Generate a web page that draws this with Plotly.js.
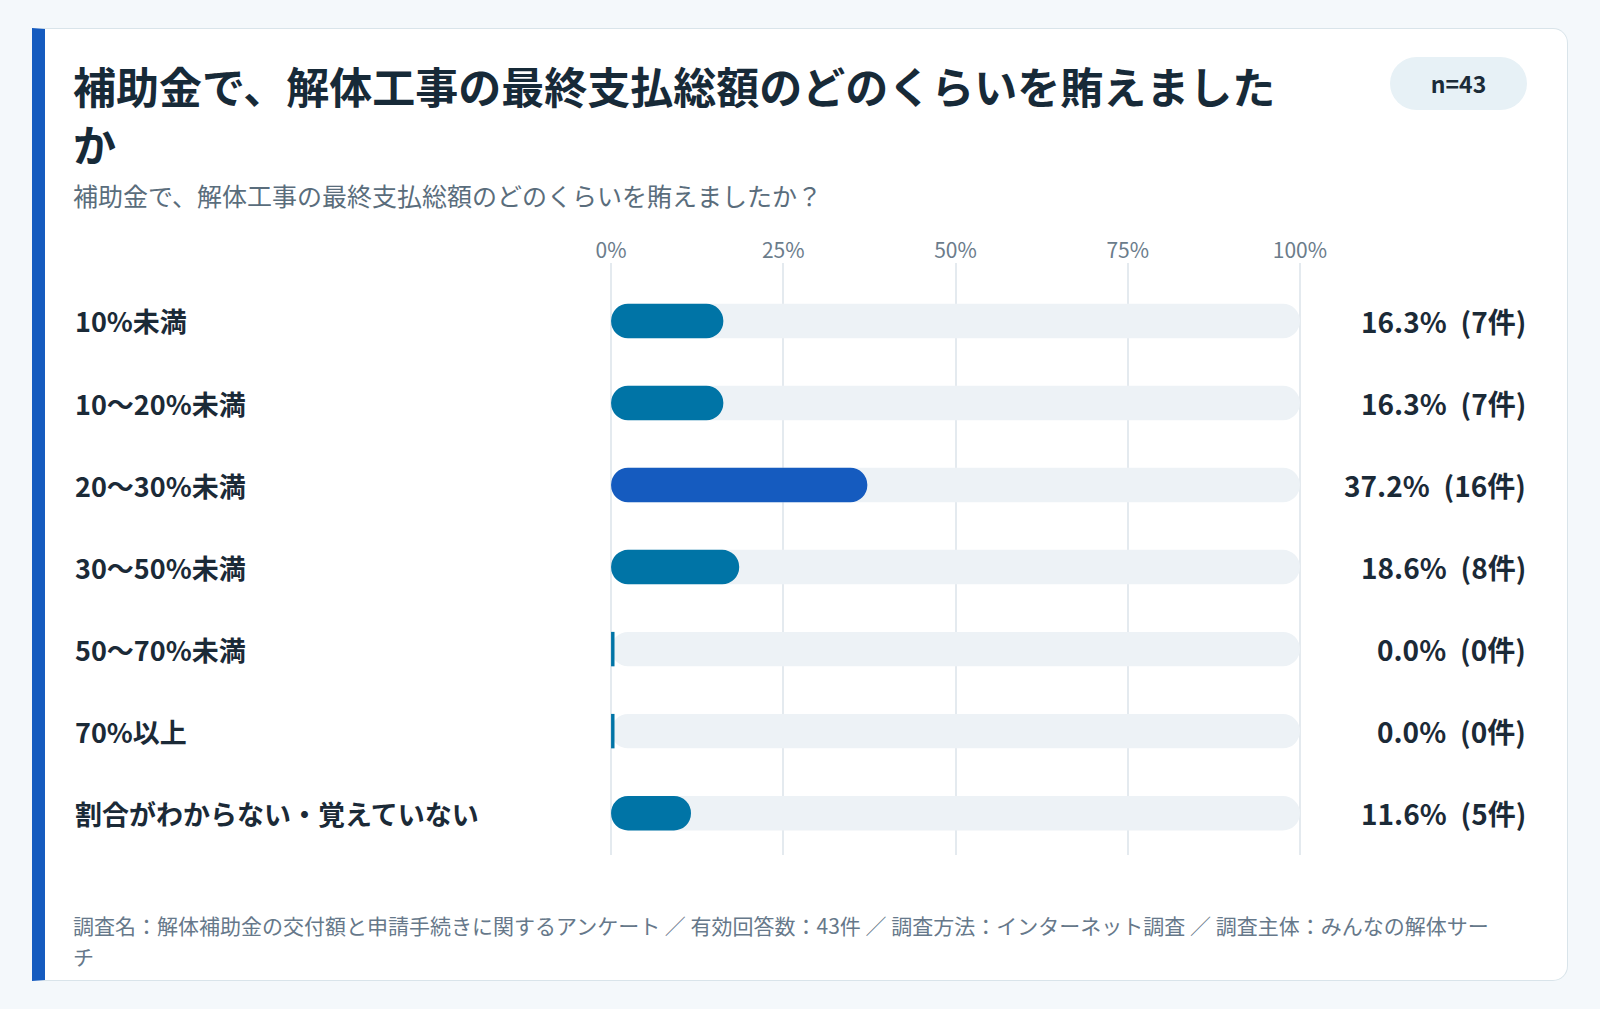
<!DOCTYPE html>
<html lang="ja">
<head>
<meta charset="utf-8">
<script src="https://cdn.plot.ly/plotly-3.0.1.min.js"></script>
<style>
  html, body { margin: 0; padding: 0; background: #f4f8fb; }
  body { width: 1600px; height: 1009px; position: relative; overflow: hidden;
         font-family: "Noto Sans CJK JP", "Noto Sans", sans-serif; }
  .card { position: absolute; left: 32px; top: 28px; width: 1522px; height: 951px;
          background: #fff; border: 1px solid #d9e4ea; border-left: 13px solid #155bbf;
          border-radius: 0 15px 15px 0; }
  .title { position: absolute; left: 73px; top: 56px; margin: 0; font-size: 43px;
           line-height: 58px; font-weight: 700; color: #172a38; z-index: 2; }
  .sub { position: absolute; left: 73px; top: 178px; font-size: 25px; line-height: 34px;
         color: #5a6d7c; z-index: 2; }
  .badge { position: absolute; left: 1390px; top: 57px; width: 137px; height: 53px;
           border-radius: 27px; background: #e7f1f6; color: #1b2b38; font-weight: 700;
           font-size: 23px; line-height: 53px; text-align: center; z-index: 2; }
  .foot { position: absolute; left: 73px; top: 910px; width: 1424px; font-size: 21px;
          line-height: 30.5px; color: #66788a; z-index: 2; }
  #chart { position: absolute; left: 0; top: 0; width: 1600px; height: 1009px; z-index: 1; }
</style>
</head>
<body>
<div class="card"></div>
<h1 class="title">補助金で、解体工事の最終支払総額のどのくらいを賄えました<br>か</h1>
<div class="sub">補助金で、解体工事の最終支払総額のどのくらいを賄えましたか？</div>
<div class="badge">n=43</div>
<div class="foot">調査名：解体補助金の交付額と申請手続きに関するアンケート ／ 有効回答数：43件 ／ 調査方法：インターネット調査 ／ 調査主体：みんなの解体サーチ</div>
<div id="chart"></div>
<script>
var categories = ['10%未満', '10〜20%未満', '20〜30%未満', '30〜50%未満', '50〜70%未満', '70%以上', '割合がわからない・覚えていない'];
var percents = [16.3, 16.3, 37.2, 18.6, 0.0, 0.0, 11.6];
var counts = [7, 7, 16, 8, 0, 0, 5];
var tickValues = [0, 25, 50, 75, 100];
var tickLabels = ['0%', '25%', '50%', '75%', '100%'];

var W = 1600, H = 1009;
// pixel positions of 0% and 100%, plus a little padding so the edge gridlines show
var x0px = 611, x100px = 1300, padUnits = 0.3;
var unitPx = (x100px - x0px) / 100;
var plotLeft = x0px - padUnits * unitPx, plotRight = x100px + padUnits * unitPx;
var plotTop = 263, plotBottom = 855;
var FONT = '"Noto Sans CJK JP", "Noto Sans", sans-serif';
var BAR = '#0074a6', BAR_MAX = '#155bbf', TRACK = '#edf2f6';
var MIN_MARK = 0.5;   // smallest visible mark for a 0% answer

function px2paper(px) { return (px - plotLeft) / (plotRight - plotLeft); }

var rows = categories.map(function (c, i) { return i; });
var maxVal = Math.max.apply(null, percents);
var colors = percents.map(function (v) { return v === maxVal ? BAR_MAX : BAR; });
var trackVals = percents.map(function () { return 100; });
var shown = percents.map(function (v) { return v > 0 ? v : null; });
var zeroMarks = percents.map(function (v) { return v > 0 ? null : MIN_MARK; });

// bars with an explicit base get both ends rounded
var data = [
  {
    type: 'bar', orientation: 'h', y: rows, x: trackVals, base: 0, width: 0.42,
    marker: { color: TRACK, cornerradius: '50%' }, hoverinfo: 'skip', showlegend: false
  },
  {
    type: 'bar', orientation: 'h', y: rows, x: shown, base: 0, width: 0.42,
    marker: { color: colors, cornerradius: '50%' }, hoverinfo: 'skip', showlegend: false
  },
  {
    type: 'bar', orientation: 'h', y: rows, x: zeroMarks, base: 0, width: 0.42,
    marker: { color: BAR }, hoverinfo: 'skip', showlegend: false
  }
];

var annotations = [];
categories.forEach(function (c, i) {
  annotations.push({
    xref: 'paper', yref: 'y', x: px2paper(73), y: i, xanchor: 'left', yanchor: 'middle',
    text: c, showarrow: false, font: { family: FONT, size: 27, color: '#1b2a37', weight: 700 }
  });
  annotations.push({
    xref: 'paper', yref: 'y', x: px2paper(1528), y: i, xanchor: 'right', yanchor: 'middle',
    text: percents[i].toFixed(1) + '%\u2002(' + counts[i] + '件)', showarrow: false,
    font: { family: FONT, size: 28, color: '#1b2a37', weight: 700 }
  });
});

var layout = {
  width: W, height: H,
  margin: { l: plotLeft, r: W - plotRight, t: plotTop, b: H - plotBottom, pad: 0 },
  paper_bgcolor: 'rgba(0,0,0,0)', plot_bgcolor: 'rgba(0,0,0,0)',
  barmode: 'overlay',
  font: { family: FONT },
  xaxis: {
    range: [-padUnits, 100 + padUnits], side: 'top', tickvals: tickValues, ticktext: tickLabels,
    showgrid: true, gridcolor: '#e4eaef', gridwidth: 2, zeroline: false, showline: false,
    ticks: '', ticklabelstandoff: 0, fixedrange: true,
    tickfont: { family: FONT, size: 21, color: '#6b7c8b' }
  },
  yaxis: {
    range: [6.51, -0.707], showticklabels: false, showgrid: false, zeroline: false,
    showline: false, ticks: '', fixedrange: true
  },
  annotations: annotations
};

Plotly.newPlot('chart', data, layout, { staticPlot: true, displayModeBar: false });
</script>
</body>
</html>
